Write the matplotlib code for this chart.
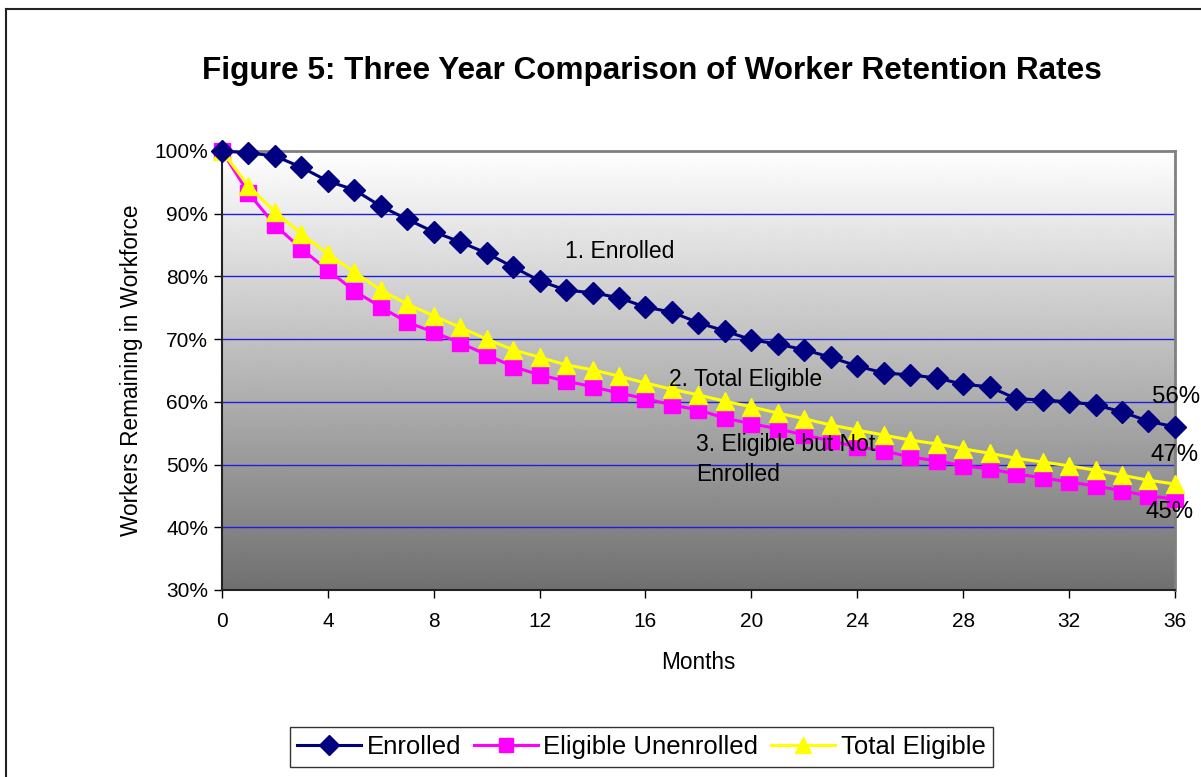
import numpy as np
import matplotlib
matplotlib.use("Agg")
import matplotlib.pyplot as plt
from matplotlib.lines import Line2D

plt.rcParams['font.family'] = ['Liberation Sans', 'DejaVu Sans']

months = list(range(37))

enrolled = [100, 99.7, 99.2, 97.4, 95.2, 93.8, 91.2, 89.1, 87.1, 85.5, 83.7, 81.5,
            79.3, 77.8, 77.4, 76.6, 75.1, 74.3, 72.6, 71.3, 69.9, 69.2, 68.3, 67.1,
            65.7, 64.6, 64.3, 63.8, 62.8, 62.4, 60.5, 60.3, 60.0, 59.5, 58.4, 56.9, 56.0]

elig_unenrolled = [100, 93.3, 88.2, 84.4, 81.0, 77.7, 75.1, 72.7, 71.1, 69.4, 67.5, 65.6,
                   64.3, 63.3, 62.4, 61.4, 60.5, 59.5, 58.7, 57.4, 56.5, 55.7, 54.7, 53.8,
                   52.8, 52.2, 51.2, 50.6, 49.8, 49.3, 48.5, 47.9, 47.2, 46.6, 45.8, 45.0, 44.5]

total_eligible = [100, 94.4, 90.3, 86.8, 83.6, 80.7, 77.8, 75.6, 73.7, 71.9, 70.0, 68.3,
                  67.1, 65.9, 65.1, 64.1, 63.0, 62.0, 61.1, 60.1, 59.2, 58.2, 57.3, 56.3,
                  55.5, 54.7, 53.9, 53.3, 52.5, 51.8, 51.0, 50.4, 49.8, 49.1, 48.3, 47.5, 46.9]

x_ticks = [0, 4, 8, 12, 16, 20, 24, 28, 32, 36]
y_ticks = [30, 40, 50, 60, 70, 80, 90, 100]

fig = plt.figure(figsize=(12.01, 7.77), dpi=100)
ax = fig.add_axes([0.1848, 0.2407, 0.7935, 0.565])

# grey gradient background of the plot area
grad = np.linspace(1.0, 0.44, 256).reshape(-1, 1)
ax.imshow(grad, cmap='gray', vmin=0, vmax=1, extent=[0, 36, 30, 100],
          aspect='auto', zorder=0, interpolation='bilinear')

for v in y_ticks[1:-1]:
    ax.axhline(v, color='#2020d8', lw=1.0, zorder=1)

ax.plot(months, enrolled, color='#000080', lw=2.2, marker='D', markersize=11,
        label='Enrolled', clip_on=False, zorder=5)
ax.plot(months, elig_unenrolled, color='#ff00ff', lw=2.2, marker='s', markersize=11,
        label='Eligible Unenrolled', clip_on=False, zorder=3)
ax.plot(months, total_eligible, color='#ffff00', lw=2.2, marker='^', markersize=13,
        label='Total Eligible', clip_on=False, zorder=4)

ax.set_xlim(0, 36)
ax.set_ylim(30, 100)
ax.set_xticks(x_ticks)
ax.set_yticks(y_ticks)
ax.set_yticklabels([f"{v}%" for v in y_ticks])
ax.tick_params(labelsize=15, length=6, width=1, color='black')
ax.tick_params(axis='x', pad=10)
ax.tick_params(axis='y', pad=4)

for s in ['top', 'right']:
    ax.spines[s].set_color('#808080')
    ax.spines[s].set_linewidth(2)
for s in ['left', 'bottom']:
    ax.spines[s].set_color('#222222')
    ax.spines[s].set_linewidth(1.5)

ax.set_xlabel('Months', fontsize=16.3, labelpad=14)
ax.set_ylabel('Workers Remaining in Workforce', fontsize=16.3, labelpad=8)

ax.text(12.96, 83.9, '1. Enrolled', fontsize=16.5, va='center', zorder=6)
ax.text(16.9, 63.6, '2. Total Eligible', fontsize=16.5, va='center', zorder=6)
ax.text(17.9, 50.8, '3. Eligible but Not\nEnrolled', fontsize=16.5, va='center',
        linespacing=1.38, zorder=6)
ax.text(35.13, 60.8, '56%', fontsize=17.3, va='center', clip_on=False, zorder=6)
ax.text(35.06, 51.5, '47%', fontsize=17.3, va='center', clip_on=False, zorder=6)
ax.text(34.87, 42.4, '45%', fontsize=17.3, va='center', clip_on=False, zorder=6)

fig.text(0.5425, 0.9085, 'Figure 5: Three Year Comparison of Worker Retention Rates',
         fontsize=22.7, fontweight='bold', ha='center', va='center')

leg = fig.legend(loc='center', bbox_to_anchor=(0.534, 0.0386), ncol=3, fontsize=18.5,
                 frameon=True, fancybox=False, handlelength=2.5, columnspacing=0.5,
                 handletextpad=0.2, borderpad=0.3, markerscale=0.9)
leg.get_frame().set_edgecolor('black')
leg.get_frame().set_linewidth(1)

# outer chart border (top and left visible)
fig.add_artist(Line2D([6 / 1201, 1.0], [1 - 9 / 777, 1 - 9 / 777], color='#222222', lw=1.5))
fig.add_artist(Line2D([6 / 1201, 6 / 1201], [0.0, 1 - 9 / 777], color='#222222', lw=1.5))

fig.savefig('out.png', dpi=100)
